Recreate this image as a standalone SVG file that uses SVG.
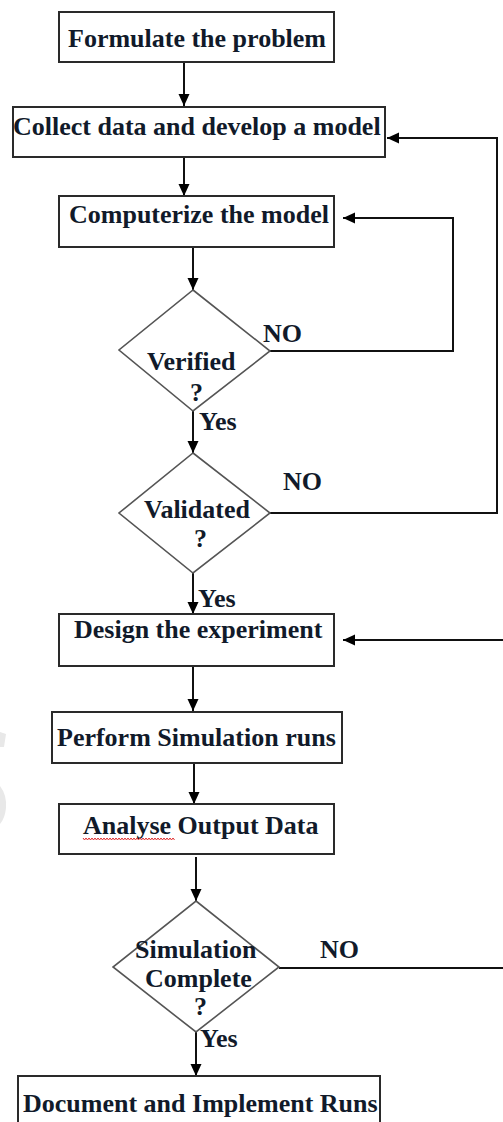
<svg xmlns="http://www.w3.org/2000/svg" width="503" height="1122" viewBox="0 0 503 1122">
  <defs>
    <marker id="arr" viewBox="0 0 12 12" refX="12" refY="6" markerWidth="12" markerHeight="12" markerUnits="userSpaceOnUse" orient="auto">
      <path d="M0,0.5 L12,6 L0,11.5 Z" fill="#000"/>
    </marker>
    <style>
      .box{fill:#fff;stroke:#2a2a2a;stroke-width:2}
      .dia{fill:#fff;stroke:#555;stroke-width:1.6}
      .t{font-family:"Liberation Serif","Times New Roman",serif;font-weight:bold;font-size:26px;fill:#111a2a}
      .c{fill:none;stroke:#111;stroke-width:2}
      .ca{fill:none;stroke:#111;stroke-width:2;marker-end:url(#arr)}
    </style>
  </defs>
  <rect x="0" y="0" width="503" height="1122" fill="#fff"/>
  <!-- faint watermark remnants -->
  <g fill="#e8e8e8">
    <path d="M0,732 L6,734 L4,747 L0,747 Z"/>
    <path d="M0,786 Q7,795 6,808 Q5,818 0,824 Z"/>
  </g>

  <g id="connectors">
    <path class="ca" d="M184,62 V106"/>
    <path class="ca" d="M184,157 V196"/>
    <path class="ca" d="M193,247 V290"/>
    <path class="ca" d="M193,411 V453"/>
    <path class="ca" d="M193,573 V614"/>
    <path class="ca" d="M193,666 V711"/>
    <path class="ca" d="M194,763 V804"/>
    <path class="ca" d="M196,857 V901"/>
    <path class="ca" d="M196,1032 V1076"/>
    <path class="ca" d="M270,351 H453 V218 H343"/>
    <path class="ca" d="M270,513 H497 V138 H387"/>
    <path class="c" d="M279,968 H503"/>
    <path class="ca" d="M503,640 H343"/>
  </g>

  <g id="n-formulate">
    <rect class="box" x="59" y="12" width="275" height="50"/>
    <text class="t" x="68" y="47">Formulate the problem</text>
  </g>
  <g id="n-collect">
    <rect class="box" x="13" y="107" width="372" height="50"/>
    <text class="t" x="13" y="135">Collect data and develop a model</text>
  </g>
  <g id="n-computerize">
    <rect class="box" x="59" y="196" width="275" height="51"/>
    <text class="t" x="69" y="223">Computerize the model</text>
  </g>
  <g id="n-verified">
    <polygon class="dia" points="193,290 270,351 193,411 119,350"/>
    <text class="t" x="147" y="370">Verified</text>
    <text class="t" x="190" y="401">?</text>
  </g>
  <g id="n-validated">
    <polygon class="dia" points="193,453 270,513 193,573 119,513"/>
    <text class="t" x="144" y="518">Validated</text>
    <text class="t" x="194" y="547">?</text>
  </g>
  <g id="n-design">
    <rect class="box" x="59" y="614" width="275" height="52"/>
    <text class="t" x="74" y="638">Design the experiment</text>
  </g>
  <g id="n-perform">
    <rect class="box" x="52" y="712" width="290" height="51"/>
    <text class="t" x="57" y="746">Perform Simulation runs</text>
  </g>
  <g id="n-analyse">
    <rect class="box" x="59" y="804" width="275" height="50"/>
    <text class="t" x="83" y="834">Analyse Output Data</text>
    <polyline fill="none" stroke="#e03030" stroke-width="1" points="83,838 84.5,840 86,838 87.5,840 89,838 90.5,840 92,838 93.5,840 95,838 96.5,840 98,838 99.5,840 101,838 102.5,840 104,838 105.5,840 107,838 108.5,840 110,838 111.5,840 113,838 114.5,840 116,838 117.5,840 119,838 120.5,840 122,838 123.5,840 125,838 126.5,840 128,838 129.5,840 131,838 132.5,840 134,838 135.5,840 137,838 138.5,840 140,838 141.5,840 143,838 144.5,840 146,838 147.5,840 149,838 150.5,840 152,838 153.5,840 155,838 156.5,840 158,838 159.5,840 161,838 162.5,840 164,838 165.5,840 167,838 168.5,840 170,838 171.5,840 173,838 174.5,840"/>
  </g>
  <g id="n-simcomplete">
    <polygon class="dia" points="196,901 279,967 196,1032 113,967"/>
    <text class="t" x="135" y="958">Simulation</text>
    <text class="t" x="145" y="987">Complete</text>
    <text class="t" x="194" y="1015">?</text>
  </g>
  <g id="n-document">
    <rect class="box" x="18" y="1076" width="362" height="60"/>
    <text class="t" x="23" y="1112">Document and Implement Runs</text>
  </g>

  <g id="labels">
    <text class="t" x="263" y="342">NO</text>
    <text class="t" x="199" y="430">Yes</text>
    <text class="t" x="283" y="490">NO</text>
    <text class="t" x="198" y="607">Yes</text>
    <text class="t" x="320" y="958">NO</text>
    <text class="t" x="200" y="1047">Yes</text>
  </g>
</svg>
